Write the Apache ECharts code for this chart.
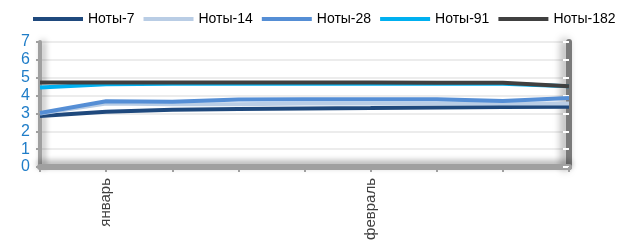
<!DOCTYPE html>
<html>
<head>
<meta charset="utf-8">
<script src="https://cdn.jsdelivr.net/npm/echarts@6/dist/echarts.min.js"></script>
<style>
  html, body { margin: 0; padding: 0; background: #fff; }
  #chart_box { width: 638px; height: 248px; }
</style>
</head>
<body>
<div id="chart_box"></div>
<script>
// категории (подписи только у января и февраля)
let categories = ['', 'январь', '', '', '', 'февраль', '', '', ''];

let noty7   = [2.86, 3.10, 3.20, 3.25, 3.28, 3.30, 3.33, 3.36, 3.38];
let noty14  = [3.00, 3.55, 3.52, 3.52, 3.55, 3.55, 3.56, 3.56, 3.56];
let noty28  = [3.02, 3.68, 3.66, 3.78, 3.80, 3.80, 3.80, 3.70, 3.86];
let noty91  = [4.45, 4.64, 4.66, 4.66, 4.66, 4.66, 4.66, 4.66, 4.52];
let noty182 = [4.73, 4.73, 4.73, 4.73, 4.73, 4.73, 4.72, 4.72, 4.52];

let yTicks = [0, 7, 1];

let myChart = echarts.init(document.getElementById('chart_box'));

function line(name, data, color) {
    return {
        name: name,
        type: 'line',
        data: data,
        symbol: 'none',
        color: color,
        lineStyle: { width: 4, color: color },
        z: 3
    };
}

let myOption = {
    animation: false,
    textStyle: { fontFamily: 'Liberation Sans, Arial, sans-serif' },
    legend: {
        top: 7,
        left: 28,
        width: 608,
        itemWidth: 50,
        itemHeight: 4,
        itemGap: 9,
        icon: 'rect',
        textStyle: { fontSize: 14, color: '#000' },
        data: ['Ноты-7', 'Ноты-14', 'Ноты-28', 'Ноты-91', 'Ноты-182']
    },
    grid: { left: 40, right: 69, top: 42, bottom: 81 },
    xAxis: {
        type: 'category',
        boundaryGap: false,
        data: categories,
        axisLine: {
            lineStyle: { color: '#a0a0a0', width: 6, shadowColor: 'rgba(0,0,0,0.35)', shadowBlur: 6, shadowOffsetY: -3 }
        },
        axisTick: { show: true, interval: 0, length: 5, lineStyle: { color: '#a0a0a0', width: 2 } },
        axisLabel: { interval: 0, rotate: 90, fontSize: 15, color: '#404040', margin: 11 },
        splitLine: { show: false }
    },
    yAxis: [{
        type: 'value',
        min: yTicks[0],
        max: yTicks[1],
        interval: yTicks[2],
        axisLine: {
            show: true,
            lineStyle: { color: '#a0a0a0', width: 4, shadowColor: 'rgba(0,0,0,0.35)', shadowBlur: 6, shadowOffsetX: 3 }
        },
        axisTick: { show: true, length: 4, lineStyle: { color: '#a0a0a0', width: 2 } },
        axisLabel: { fontSize: 16, color: '#1f7dc8', margin: 10 },
        splitLine: { lineStyle: { color: '#ececec', width: 2 } }
    }, {
        type: 'value',
        position: 'right',
        min: yTicks[0],
        max: yTicks[1],
        interval: yTicks[2],
        axisLine: {
            show: true,
            lineStyle: { color: '#7a7a7a', width: 6, shadowColor: 'rgba(0,0,0,0.4)', shadowBlur: 8, shadowOffsetX: -4 }
        },
        axisTick: { show: true, inside: true, length: 6, lineStyle: { color: '#ffffff', width: 2 } },
        axisLabel: { show: false },
        splitLine: { show: false }
    }],
    series: [
        line('Ноты-7', noty7, '#1f497d'),
        line('Ноты-14', noty14, '#b9cde5'),
        line('Ноты-28', noty28, '#558ed5'),
        line('Ноты-91', noty91, '#00b0f0'),
        line('Ноты-182', noty182, '#404040')
    ]
};

myChart.setOption(myOption);
</script>
</body>
</html>
